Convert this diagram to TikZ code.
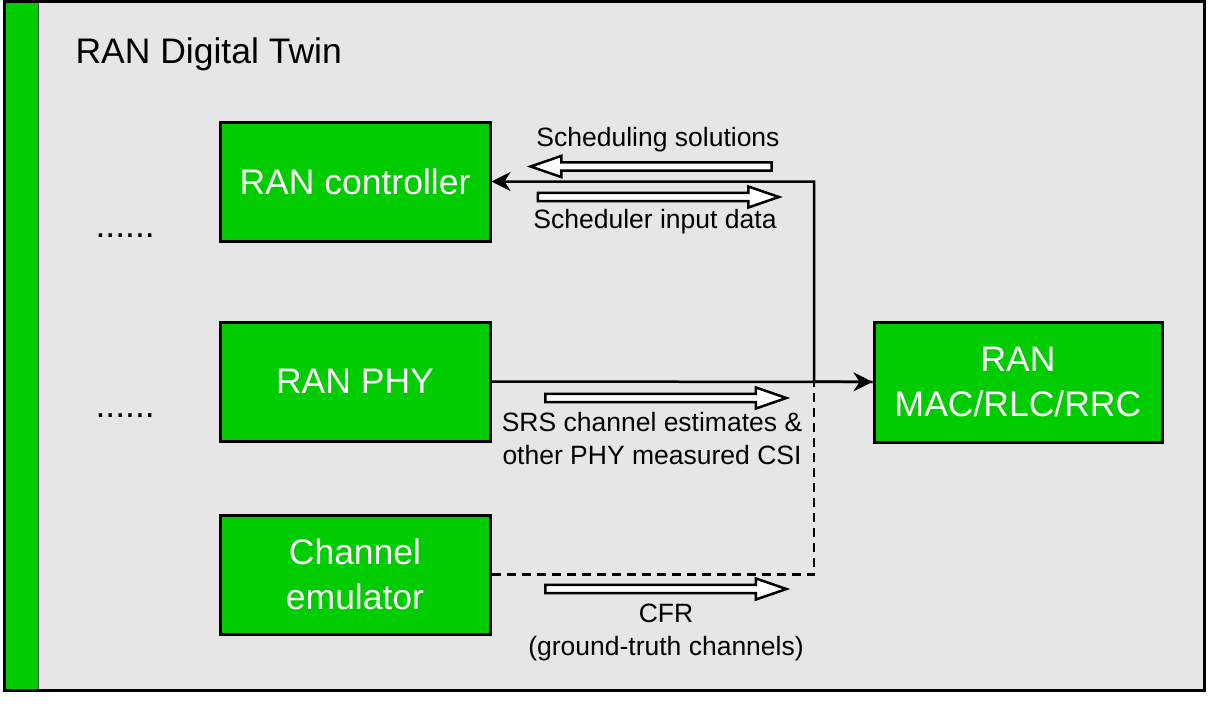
\documentclass[tikz,border=0pt]{standalone}
\usepackage{fontspec}
\setmainfont{Liberation Sans}
\usetikzlibrary{arrows.meta,positioning,shapes.arrows}
\definecolor{twingreen}{HTML}{00CC00}
\definecolor{twingray}{HTML}{E6E6E6}

\begin{document}
\begin{tikzpicture}[
  x=1pt, y=-1pt,
  block/.style={draw, line width=3pt, fill=twingreen, text=white, align=center, minimum width=270pt, minimum height=119pt, font=\fontsize{35.5}{45}\selectfont},
  fat/.style={single arrow, draw, line width=2.5pt, fill=white, minimum height=241pt, inner sep=2.8pt, single arrow head extend=6.5pt, single arrow tip angle=38},
  lbl/.style={align=center, font=\fontsize{26.5}{33}\selectfont},
  arrow/.style={-{Stealth[length=19pt,width=19pt,inset=6pt]}, line width=2.5pt}
]
\useasboundingbox (0,0) rectangle (1209,720);

% frame
\fill[twingray] (4.5,1.5) rectangle (1204.5,690.5);
\fill[twingreen] (4.5,1.5) rectangle (38,690.5);
\draw[line width=1.5pt, black!70] (38.5,1.5) -- (38.5,690.5);
\draw[line width=3pt] (4.5,1.5) rectangle (1204.5,690.5);
\node[anchor=base west, font=\fontsize{35.5}{45}\selectfont] (title) at (72,63) {RAN Digital Twin};

% blocks
\node[block] (ctrl) at (355,181.5) {RAN controller};
\node[block, below=78pt of ctrl] (phy) {RAN PHY};
\node[block, below=71pt of phy] (emu) {Channel\\emulator};
\node[block, minimum width=288pt, minimum height=120pt] (mac) at (1018,382) {RAN\\MAC/RLC/RRC};

\node[anchor=base west, font=\fontsize{35.5}{45}\selectfont] (dotsA) at (92,237) {......};
\node[anchor=base west, font=\fontsize{35.5}{45}\selectfont] (dotsB) at (92,417) {......};

% data flows
\node[fat, shape border rotate=180] (solArr) at (657,166.5) {};
\node[fat] (inArr) at (652.5,197) {};
\node[fat] (srsArr) at (660,398) {};
\node[fat] (cfrArr) at (660,589) {};

\node[lbl, anchor=base] (solLbl) at (658,146) {Scheduling solutions};
\node[lbl, anchor=base] (inLbl) at (655,228) {Scheduler input data};
\node[lbl] (srsLbl) at (652,439) {SRS channel estimates \&\\other PHY measured CSI};
\node[lbl] (cfrLbl) at (666,632) {CFR\\(ground-truth channels)};

% connectors
\coordinate (jn) at (814,381.5);
\draw[arrow] (phy) -- (mac);
\draw[arrow] (mac.west) -- (jn) |- (ctrl.east);
\draw[line width=2.5pt, dash pattern=on 9pt off 6pt] (emu.east) -| (jn);
\end{tikzpicture}
\end{document}
